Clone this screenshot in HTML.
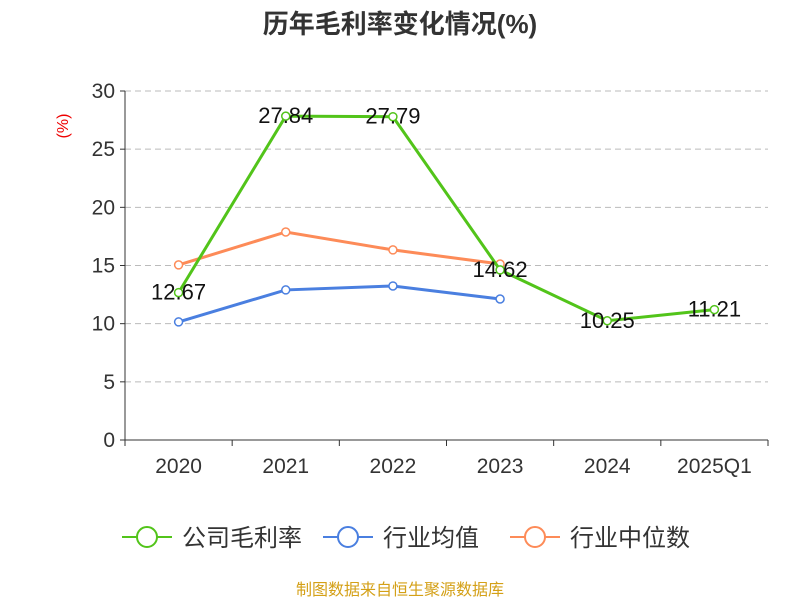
<!DOCTYPE html>
<html><head><meta charset="utf-8"><style>
body{margin:0;background:#fff;font-family:"Liberation Sans","Noto Sans CJK SC",sans-serif}
</style></head><body>
<svg id="c" width="800" height="600" xmlns="http://www.w3.org/2000/svg">
<text x="400" y="33" text-anchor="middle" font-size="26" font-weight="bold" fill="#333" font-family="Liberation Sans,Noto Sans CJK SC,sans-serif">历年毛利率变化情况(%)</text>
<text x="68" y="126" text-anchor="middle" font-size="16" fill="#e00" transform="rotate(-90 68 126)">(%)</text>
<g id="grid"></g><g id="axes"></g><g id="series"></g><g id="legend"></g>
<text x="400" y="595" text-anchor="middle" font-size="16" fill="#d4a017" font-family="Liberation Sans,Noto Sans CJK SC,sans-serif">制图数据来自恒生聚源数据库</text>
</svg>
<script>
const categories=["2020","2021","2022","2023","2024","2025Q1"];
const company=[12.67,27.84,27.79,14.62,10.25,11.21];
const industryAvg=[10.15,12.9,13.24,12.12,null,null];
const industryMedian=[15.05,17.88,16.34,15.13,null,null];
const yTicks=[0,5,10,15,20,25,30];
const NS="http://www.w3.org/2000/svg";
const x0=125,x1=768,yb=440,yt=91;
const bw=(x1-x0)/categories.length;
const X=i=>x0+bw*(i+0.5);
const Y=v=>yb-(v/30)*(yb-yt);
function el(t,a,p){const e=document.createElementNS(NS,t);for(const k in a)e.setAttribute(k,a[k]);p.appendChild(e);return e;}
const grid=document.getElementById('grid'),axes=document.getElementById('axes'),ser=document.getElementById('series'),leg=document.getElementById('legend');
yTicks.forEach(v=>{
 if(v>0){const g=el('line',{x1:x0,x2:x1,y1:Y(v),y2:Y(v),stroke:'#bbb','stroke-dasharray':'6,4'},grid);
 }
 el('line',{x1:x0-5,x2:x0,y1:Y(v),y2:Y(v),stroke:'#333'},axes);
 const t=el('text',{x:x0-10,y:Y(v)+7,'text-anchor':'end','font-size':21,fill:'#333'},axes);t.textContent=v;
 
});
el('line',{x1:x0,x2:x0,y1:yt,y2:yb,stroke:'#333'},axes);
el('line',{x1:x0,x2:x1,y1:yb,y2:yb,stroke:'#333'},axes);
for(let i=0;i<=categories.length;i++)el('line',{x1:x0+bw*i,x2:x0+bw*i,y1:yb,y2:yb+6,stroke:'#333'},axes);
categories.forEach((c,i)=>{const t=el('text',{x:X(i),y:473,'text-anchor':'middle','font-size':21,fill:'#333'},axes);t.textContent=c;
 });
function line(data,color,name,labels){
 const g=el('g',{},ser);
 let d='';data.forEach((v,i)=>{if(v==null)return;d+=(d?'L':'M')+X(i)+','+Y(v);});
 el('path',{d:d,fill:'none',stroke:color,'stroke-width':3},g);
 data.forEach((v,i)=>{if(v==null)return;const p=el('circle',{cx:X(i),cy:Y(v),r:4,fill:'#fff',stroke:color,'stroke-width':1.5},g);
  
  if(labels){const t=el('text',{x:X(i),y:Y(v)+7,'text-anchor':'middle','font-size':22,fill:'#111'},g);t.textContent=v.toFixed(2);
   }});
}
line(industryMedian,'#fd8b58','industry-median-line',false);
line(industryAvg,'#4a7fe0','industry-average-line',false);
line(company,'#52c41a','company-gross-margin-line',true);
[["公司毛利率",'#52c41a',122],["行业均值",'#4a7fe0',323],["行业中位数",'#fd8b58',510]].forEach(([n,c,x])=>{
 const g=el('g',{},leg);
 el('line',{x1:x,x2:x+50,y1:537,y2:537,stroke:c,'stroke-width':2},g);
 el('circle',{cx:x+25,cy:537,r:10,fill:'#fff',stroke:c,'stroke-width':2},g);
 const t=el('text',{x:x+60,y:546,'font-size':24,fill:'#333'},g);t.textContent=n;
});
</script>
</body></html>
